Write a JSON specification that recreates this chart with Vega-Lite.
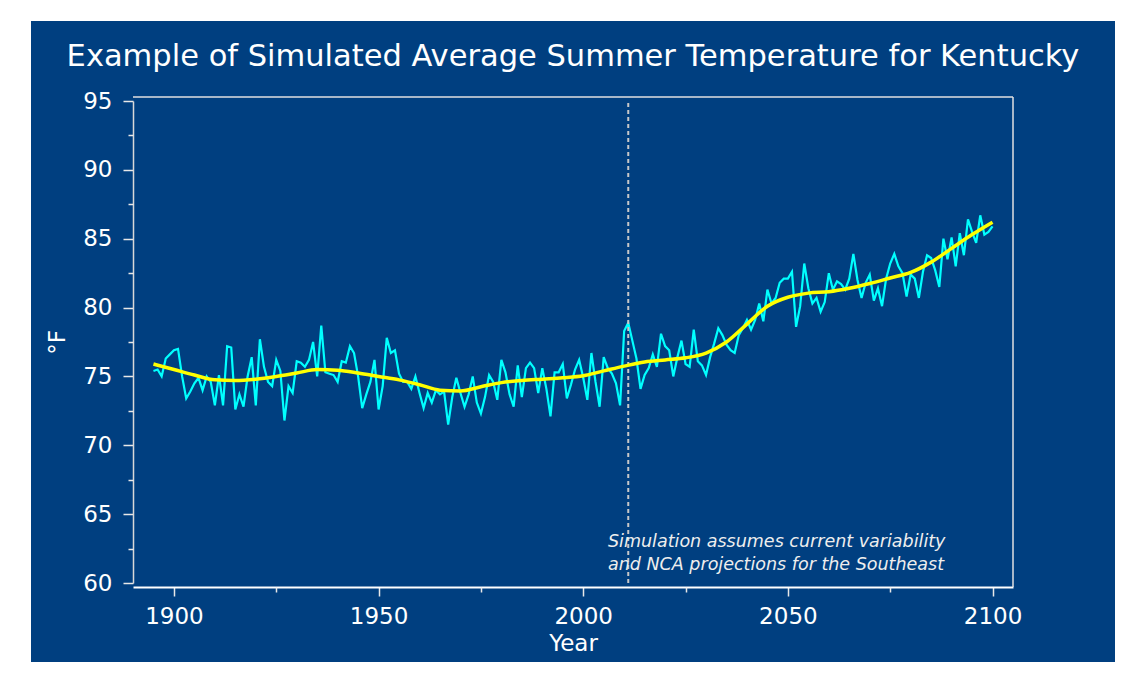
{
  "$schema": "https://vega.github.io/schema/vega-lite/v6.json",
  "width": 1084,
  "height": 641,
  "autosize": {"type": "none"},
  "padding": {"left": 31, "top": 21, "right": 17, "bottom": 16},
  "background": "#ffffff",
  "title": {
    "text": "Example of Simulated Average Summer Temperature for Kentucky",
    "color": "#ffffff",
    "font": "DejaVu Sans",
    "fontSize": 30.5,
    "fontWeight": "normal",
    "anchor": "middle",
    "frame": "group",
    "baseline": "alphabetic",
    "offset": -75
  },
  "config": {
    "view": {"fill": "#003F80", "stroke": null},
    "axis": {"grid": false}
  },
  "datasets": {
    "annual": [
      {"year":1895,"temp":75.4},{"year":1896,"temp":75.5},{"year":1897,"temp":75.0},{"year":1898,"temp":76.3},{"year":1899,"temp":76.6},
      {"year":1900,"temp":76.9},{"year":1901,"temp":77.0},{"year":1902,"temp":75.0},{"year":1903,"temp":73.4},{"year":1904,"temp":73.9},
      {"year":1905,"temp":74.5},{"year":1906,"temp":74.9},{"year":1907,"temp":74.0},{"year":1908,"temp":75.0},{"year":1909,"temp":74.6},
      {"year":1910,"temp":72.9},{"year":1911,"temp":75.1},{"year":1912,"temp":72.9},{"year":1913,"temp":77.2},{"year":1914,"temp":77.1},
      {"year":1915,"temp":72.6},{"year":1916,"temp":73.7},{"year":1917,"temp":72.8},{"year":1918,"temp":75.0},{"year":1919,"temp":76.4},
      {"year":1920,"temp":72.9},{"year":1921,"temp":77.7},{"year":1922,"temp":75.7},{"year":1923,"temp":74.6},{"year":1924,"temp":74.3},
      {"year":1925,"temp":76.2},{"year":1926,"temp":75.4},{"year":1927,"temp":71.8},{"year":1928,"temp":74.3},{"year":1929,"temp":73.8},
      {"year":1930,"temp":76.1},{"year":1931,"temp":76.0},{"year":1932,"temp":75.7},{"year":1933,"temp":76.2},{"year":1934,"temp":77.5},
      {"year":1935,"temp":75.0},{"year":1936,"temp":78.7},{"year":1937,"temp":75.3},{"year":1938,"temp":75.2},{"year":1939,"temp":75.1},
      {"year":1940,"temp":74.6},{"year":1941,"temp":76.1},{"year":1942,"temp":76.0},{"year":1943,"temp":77.2},{"year":1944,"temp":76.7},
      {"year":1945,"temp":75.0},{"year":1946,"temp":72.7},{"year":1947,"temp":73.7},{"year":1948,"temp":74.6},{"year":1949,"temp":76.2},
      {"year":1950,"temp":72.6},{"year":1951,"temp":74.3},{"year":1952,"temp":77.8},{"year":1953,"temp":76.7},{"year":1954,"temp":76.9},
      {"year":1955,"temp":75.2},{"year":1956,"temp":74.6},{"year":1957,"temp":74.6},{"year":1958,"temp":74.1},{"year":1959,"temp":75.0},
      {"year":1960,"temp":73.8},{"year":1961,"temp":72.7},{"year":1962,"temp":73.8},{"year":1963,"temp":73.1},{"year":1964,"temp":74.0},
      {"year":1965,"temp":73.7},{"year":1966,"temp":73.9},{"year":1967,"temp":71.5},{"year":1968,"temp":73.5},{"year":1969,"temp":74.9},
      {"year":1970,"temp":73.8},{"year":1971,"temp":72.8},{"year":1972,"temp":73.7},{"year":1973,"temp":75.0},{"year":1974,"temp":73.1},
      {"year":1975,"temp":72.3},{"year":1976,"temp":73.5},{"year":1977,"temp":75.1},{"year":1978,"temp":74.6},{"year":1979,"temp":73.3},
      {"year":1980,"temp":76.2},{"year":1981,"temp":75.3},{"year":1982,"temp":73.7},{"year":1983,"temp":72.8},{"year":1984,"temp":75.8},
      {"year":1985,"temp":73.5},{"year":1986,"temp":75.6},{"year":1987,"temp":76.0},{"year":1988,"temp":75.6},{"year":1989,"temp":73.8},
      {"year":1990,"temp":75.6},{"year":1991,"temp":74.1},{"year":1992,"temp":72.1},{"year":1993,"temp":75.3},{"year":1994,"temp":75.3},
      {"year":1995,"temp":75.9},{"year":1996,"temp":73.4},{"year":1997,"temp":74.4},{"year":1998,"temp":75.5},{"year":1999,"temp":76.2},
      {"year":2000,"temp":74.9},{"year":2001,"temp":73.3},{"year":2002,"temp":76.7},{"year":2003,"temp":74.6},{"year":2004,"temp":72.8},
      {"year":2005,"temp":76.4},{"year":2006,"temp":75.6},{"year":2007,"temp":75.2},{"year":2008,"temp":74.5},{"year":2009,"temp":72.9},
      {"year":2010,"temp":78.3},{"year":2011,"temp":78.9},{"year":2012,"temp":77.6},{"year":2013,"temp":76.3},{"year":2014,"temp":74.1},
      {"year":2015,"temp":75.1},{"year":2016,"temp":75.6},{"year":2017,"temp":76.6},{"year":2018,"temp":75.7},{"year":2019,"temp":78.1},
      {"year":2020,"temp":77.2},{"year":2021,"temp":76.9},{"year":2022,"temp":75.0},{"year":2023,"temp":76.4},{"year":2024,"temp":77.6},
      {"year":2025,"temp":75.9},{"year":2026,"temp":75.7},{"year":2027,"temp":78.4},{"year":2028,"temp":76.1},{"year":2029,"temp":75.8},
      {"year":2030,"temp":75.1},{"year":2031,"temp":76.4},{"year":2032,"temp":77.4},{"year":2033,"temp":78.5},{"year":2034,"temp":78.0},
      {"year":2035,"temp":77.3},{"year":2036,"temp":76.9},{"year":2037,"temp":76.7},{"year":2038,"temp":78.0},{"year":2039,"temp":78.5},
      {"year":2040,"temp":79.1},{"year":2041,"temp":78.4},{"year":2042,"temp":79.1},{"year":2043,"temp":80.3},{"year":2044,"temp":79.0},
      {"year":2045,"temp":81.3},{"year":2046,"temp":80.3},{"year":2047,"temp":80.7},{"year":2048,"temp":81.8},{"year":2049,"temp":82.1},
      {"year":2050,"temp":82.1},{"year":2051,"temp":82.6},{"year":2052,"temp":78.6},{"year":2053,"temp":80.1},{"year":2054,"temp":83.2},
      {"year":2055,"temp":81.4},{"year":2056,"temp":80.3},{"year":2057,"temp":80.7},{"year":2058,"temp":79.7},{"year":2059,"temp":80.4},
      {"year":2060,"temp":82.5},{"year":2061,"temp":81.3},{"year":2062,"temp":81.9},{"year":2063,"temp":81.7},{"year":2064,"temp":81.3},
      {"year":2065,"temp":82.1},{"year":2066,"temp":83.9},{"year":2067,"temp":82.0},{"year":2068,"temp":80.7},{"year":2069,"temp":81.8},
      {"year":2070,"temp":82.4},{"year":2071,"temp":80.5},{"year":2072,"temp":81.4},{"year":2073,"temp":80.1},{"year":2074,"temp":82.1},
      {"year":2075,"temp":83.2},{"year":2076,"temp":83.9},{"year":2077,"temp":83.0},{"year":2078,"temp":82.5},{"year":2079,"temp":80.8},
      {"year":2080,"temp":82.4},{"year":2081,"temp":82.1},{"year":2082,"temp":80.7},{"year":2083,"temp":82.6},{"year":2084,"temp":83.8},
      {"year":2085,"temp":83.6},{"year":2086,"temp":82.7},{"year":2087,"temp":81.5},{"year":2088,"temp":85.0},{"year":2089,"temp":83.5},
      {"year":2090,"temp":85.1},{"year":2091,"temp":83.0},{"year":2092,"temp":85.4},{"year":2093,"temp":83.8},{"year":2094,"temp":86.4},
      {"year":2095,"temp":85.5},{"year":2096,"temp":84.7},{"year":2097,"temp":86.7},{"year":2098,"temp":85.3},{"year":2099,"temp":85.5},
      {"year":2100,"temp":85.9}
    ],
    "smooth": [
      {"year":1895,"smooth":75.9},{"year":1900,"smooth":75.5},{"year":1905,"smooth":75.1},{"year":1910,"smooth":74.75},{"year":1915,"smooth":74.7},
      {"year":1920,"smooth":74.8},{"year":1925,"smooth":75.0},{"year":1930,"smooth":75.25},{"year":1935,"smooth":75.5},{"year":1940,"smooth":75.45},
      {"year":1945,"smooth":75.25},{"year":1950,"smooth":75.0},{"year":1955,"smooth":74.75},{"year":1960,"smooth":74.4},{"year":1965,"smooth":74.0},
      {"year":1970,"smooth":73.95},{"year":1975,"smooth":74.25},{"year":1980,"smooth":74.55},{"year":1985,"smooth":74.7},{"year":1990,"smooth":74.8},
      {"year":1995,"smooth":74.9},{"year":2000,"smooth":75.05},{"year":2005,"smooth":75.4},{"year":2010,"smooth":75.75},{"year":2015,"smooth":76.05},
      {"year":2020,"smooth":76.2},{"year":2025,"smooth":76.35},{"year":2030,"smooth":76.7},{"year":2035,"smooth":77.5},{"year":2040,"smooth":78.8},
      {"year":2045,"smooth":80.1},{"year":2050,"smooth":80.75},{"year":2055,"smooth":81.05},{"year":2060,"smooth":81.15},{"year":2065,"smooth":81.4},
      {"year":2070,"smooth":81.75},{"year":2075,"smooth":82.15},{"year":2080,"smooth":82.55},{"year":2085,"smooth":83.3},{"year":2090,"smooth":84.3},
      {"year":2095,"smooth":85.3},{"year":2100,"smooth":86.2}
    ]
  },
  "resolve": {"axis": {"x": "independent", "y": "independent"}},
  "layer": [
    {
      "data": {"values": [{}]},
      "mark": {"type": "rule", "color": "#E0E0E0", "strokeWidth": 1.5},
      "encoding": {
        "x": {"datum": 1890, "type": "quantitative", "scale": {"domain": [1890, 2105], "range": [102, 982], "nice": false, "zero": false}, "axis": null},
        "x2": {"datum": 2105},
        "y": {"datum": 95.29, "type": "quantitative", "scale": {"domain": [60, 95], "range": [562, 80], "nice": false, "zero": false}, "axis": null}
      }
    },
    {
      "data": {"values": [{}]},
      "mark": {"type": "rule", "color": "#E0E0E0", "strokeWidth": 1.5},
      "encoding": {
        "x": {"datum": 2105, "type": "quantitative", "scale": {"domain": [1890, 2105], "range": [102, 982], "nice": false, "zero": false}, "axis": null},
        "y": {"datum": 59.71, "type": "quantitative", "scale": {"domain": [60, 95], "range": [562, 80], "nice": false, "zero": false}, "axis": null},
        "y2": {"datum": 95.29}
      }
    },
    {
      "data": {"name": "annual"},
      "mark": {"type": "line", "color": "#00FFFF", "strokeWidth": 2.2},
      "encoding": {
        "x": {
          "field": "year", "type": "quantitative",
          "scale": {"domain": [1890, 2105], "range": [102, 982], "nice": false, "zero": false},
          "axis": {
            "orient": "bottom", "offset": -75,
            "values": [1900, 1950, 2000, 2050, 2100], "format": "d",
            "domainColor": "#FFFFFF", "domainWidth": 2,
            "tickColor": "#E8E8E8", "tickWidth": 1.5, "tickSize": 9,
            "labelFont": "DejaVu Sans", "labelFontSize": 23, "labelColor": "#FFFFFF",
            "labelPadding": 9, "labelFlush": false, "labelOverlap": false,
            "title": "Year", "titleFont": "DejaVu Sans", "titleFontSize": 23, "titleFontWeight": "normal",
            "titleColor": "#FFFFFF", "titleX": 542, "titleY": 63, "titleBaseline": "alphabetic", "titleAlign": "center"
          }
        },
        "y": {
          "field": "temp", "type": "quantitative",
          "scale": {"domain": [60, 95], "range": [562, 80], "nice": false, "zero": false},
          "axis": {
            "orient": "left", "offset": -102,
            "values": [60, 65, 70, 75, 80, 85, 90, 95],
            "domainColor": "#D8D8D8", "domainWidth": 1.5,
            "tickColor": "#E8E8E8", "tickWidth": 1.5, "tickSize": 10,
            "labelFont": "DejaVu Sans", "labelFontSize": 23, "labelColor": "#FFFFFF",
            "labelPadding": 11, "labelOverlap": false,
            "title": "°F", "titleFont": "DejaVu Sans", "titleFontSize": 23, "titleFontWeight": "normal",
            "titleColor": "#FFFFFF", "titleAngle": 270, "titleX": -69, "titleY": 321,
            "titleBaseline": "alphabetic", "titleAlign": "center"
          }
        }
      }
    },
    {
      "data": {"values": [{}]},
      "mark": {"type": "rule", "color": "#C8C8C8", "strokeWidth": 2, "strokeDash": [4, 3]},
      "encoding": {
        "x": {"datum": 2011, "type": "quantitative", "scale": {"domain": [1890, 2105], "range": [102, 982], "nice": false, "zero": false}, "axis": null},
        "y": {"datum": 60, "type": "quantitative", "scale": {"domain": [60, 95], "range": [562, 80], "nice": false, "zero": false}, "axis": null},
        "y2": {"datum": 95}
      }
    },
    {
      "data": {"name": "smooth"},
      "mark": {"type": "line", "color": "#FFFF00", "strokeWidth": 3.5, "interpolate": "monotone"},
      "encoding": {
        "x": {
          "field": "year", "type": "quantitative",
          "scale": {"domain": [1890, 2105], "range": [102, 982], "nice": false, "zero": false},
          "axis": {
            "orient": "bottom", "offset": -75,
            "values": [1925, 1975, 2025, 2075],
            "domain": false, "labels": false, "title": null,
            "tickColor": "#E8E8E8", "tickWidth": 1.5, "tickSize": 5
          }
        },
        "y": {
          "field": "smooth", "type": "quantitative",
          "scale": {"domain": [60, 95], "range": [562, 80], "nice": false, "zero": false},
          "axis": {
            "orient": "left", "offset": -102,
            "values": [62.5, 67.5, 72.5, 77.5, 82.5, 87.5, 92.5],
            "domain": false, "labels": false, "title": null,
            "tickColor": "#E8E8E8", "tickWidth": 1.5, "tickSize": 5
          }
        }
      }
    },
    {
      "data": {"values": [{}]},
      "mark": {
        "type": "text", "align": "left", "baseline": "alphabetic",
        "font": "DejaVu Sans", "fontStyle": "italic", "fontSize": 17.5,
        "color": "#EEEEEE", "lineHeight": 23.3
      },
      "encoding": {
        "x": {"datum": 2006.05, "type": "quantitative", "scale": {"domain": [1890, 2105], "range": [102, 982], "nice": false, "zero": false}, "axis": null},
        "y": {"datum": 62.64, "type": "quantitative", "scale": {"domain": [60, 95], "range": [562, 80], "nice": false, "zero": false}, "axis": null},
        "text": {"value": ["Simulation assumes current variability", "and NCA projections for the Southeast"]}
      }
    }
  ]
}
